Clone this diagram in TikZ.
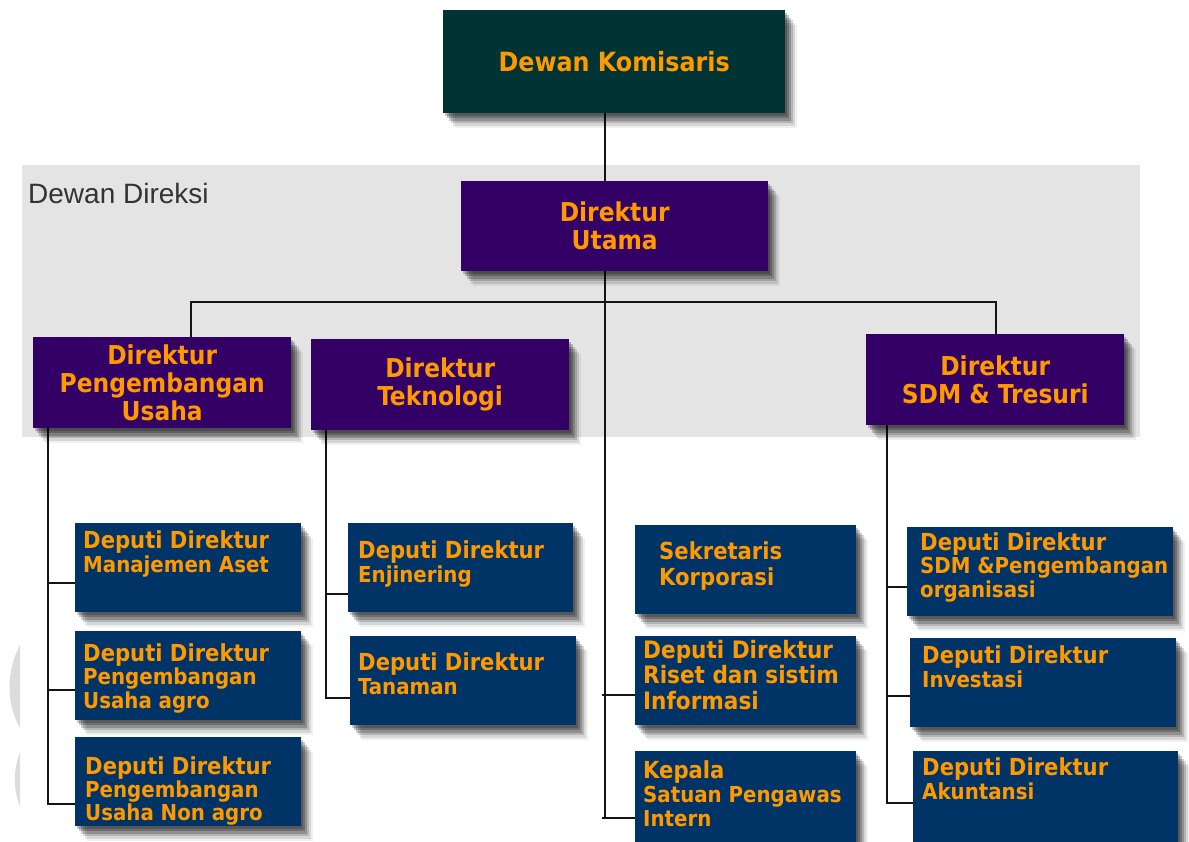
\documentclass[tikz,border=0pt]{standalone}
\usepackage{fontspec}
\usetikzlibrary{shadows}
\newfontfamily\boxfont{DejaVu Sans Condensed}
\newfontfamily\bandfont{Liberation Sans}
\definecolor{boardteal}{RGB}{0,51,51}
\definecolor{dirpurple}{RGB}{51,0,102}
\definecolor{depnavy}{RGB}{0,51,102}
\definecolor{labelorange}{RGB}{255,153,0}
\definecolor{bandgray}{RGB}{228,228,228}
\definecolor{markgray}{RGB}{220,220,220}
\definecolor{wire}{RGB}{20,20,20}
% one line of text inside a deputy box
\newcommand\lnA[1]{\hbox{\fontsize{23.5}{24}\selectfont #1}}
\newcommand\lnB[1]{\hbox{\fontsize{22}{24}\selectfont #1}}
\newcommand\lnC[1]{\hbox{\fontsize{24}{24}\selectfont #1}}
\newcommand\stacklines[2][24pt]{\vtop{\baselineskip=#1\relax #2}}
\pgfdeclarelayer{backdrop}
\pgfsetlayers{backdrop,main}
\tikzset{
  % soft shadow built from a few stacked, offset translucent copies
  softshadow/.style={
    drop shadow={shadow xshift=2pt, shadow yshift=-2.5pt, fill=black, opacity=0.22},
    drop shadow={shadow xshift=4pt, shadow yshift=-5pt, fill=black, opacity=0.22},
    drop shadow={shadow xshift=6pt, shadow yshift=-7.5pt, fill=black, opacity=0.2},
    drop shadow={shadow xshift=8pt, shadow yshift=-10pt, fill=black, opacity=0.16},
    drop shadow={shadow xshift=10pt, shadow yshift=-12.5pt, fill=black, opacity=0.11},
    drop shadow={shadow xshift=12pt, shadow yshift=-15pt, fill=black, opacity=0.06}},
  unitbox/.style={rectangle, draw=none, inner sep=0pt, anchor=north west, softshadow},
  board/.style={unitbox, fill=boardteal, minimum width=342pt, minimum height=103pt,
    text=labelorange, font=\boxfont\bfseries\fontsize{26.5}{28}\selectfont},
  director/.style={unitbox, fill=dirpurple, minimum width=258pt, minimum height=91pt,
    text=labelorange, align=center, font=\boxfont\bfseries\fontsize{26}{28}\selectfont},
  deputy/.style={unitbox, fill=depnavy, minimum height=89pt},
  deptext/.style={inner sep=0pt, anchor=base west, text=labelorange, font=\boxfont\bfseries},
  link/.style={draw=wire, line width=1.6pt},
}
\begin{document}
\begin{tikzpicture}[x=1pt, y=-1pt]
\useasboundingbox (0,0) rectangle (1189,842);

\node[inner sep=0pt, anchor=base west, text=black!80, font=\bandfont\fontsize{28}{30}\selectfont] (band) at (28,204) {Dewan Direksi};

% top level
\node[board] (kom) at (443,10) {Dewan Komisaris};
\node[director, minimum width=307pt, minimum height=90pt] (utama) at (461,181) {Direktur\\Utama};

% directors
\node[director] (pu) at (33,337) {Direktur\\Pengembangan\\Usaha};
\node[director] (tek) at (311,339) {Direktur\\Teknologi};
\node[director] (sdm) at (866,334) {Direktur\\SDM \& Tresuri};

% deputies under Pengembangan Usaha
\node[deputy, minimum width=226pt] (ma) at (75,523) {};
\node[deptext] (maT) at (83,548) {\stacklines{\lnA{Deputi Direktur}\lnB{Manajemen Aset}}};
\node[deputy, minimum width=226pt] (ua) at (75,631) {};
\node[deptext] (uaT) at (83,661) {\stacklines[23.5pt]{\lnA{Deputi Direktur}\lnB{Pengembangan}\lnB{Usaha agro}}};
\node[deputy, minimum width=226pt] (na) at (75,737) {};
\node[deptext] (naT) at (85,774) {\stacklines[23pt]{\lnA{Deputi Direktur}\lnB{Pengembangan}\lnB{Usaha Non agro}}};

% deputies under Teknologi
\node[deputy, minimum width=225pt] (en) at (348,523) {};
\node[deptext] (enT) at (358,558) {\stacklines{\lnA{Deputi Direktur}\lnB{Enjinering}}};
\node[deputy, minimum width=226pt] (ta) at (350,636) {};
\node[deptext] (taT) at (358,670) {\stacklines{\lnA{Deputi Direktur}\lnB{Tanaman}}};

% units under Direktur Utama
\node[deputy, minimum width=221pt] (sk) at (635,525) {};
\node[deptext] (skT) at (659,559) {\stacklines[26pt]{\lnA{Sekretaris}\lnA{Korporasi}}};
\node[deputy, minimum width=221pt] (ri) at (635,636) {};
\node[deptext] (riT) at (643,658) {\stacklines[25.5pt]{\lnC{Deputi Direktur}\lnC{Riset dan sistim}\lnC{Informasi}}};
\node[deputy, minimum width=221pt, minimum height=92pt] (kp) at (635,751) {};
\node[deptext] (kpT) at (643,778) {\stacklines{\lnA{Kepala}\lnB{Satuan Pengawas}\lnB{Intern}}};

% deputies under SDM & Tresuri
\node[deputy, minimum width=266pt] (sd) at (907,527) {};
\node[deptext] (sdT) at (920,550) {\stacklines[23.5pt]{\lnA{Deputi Direktur}\lnB{SDM \&Pengembangan}\lnB{organisasi}}};
\node[deputy, minimum width=266pt] (iv) at (910,638) {};
\node[deptext] (ivT) at (922,663) {\stacklines{\lnA{Deputi Direktur}\lnB{Investasi}}};
\node[deputy, minimum width=265pt, minimum height=92pt] (ak) at (913,751) {};
\node[deptext] (akT) at (922,775) {\stacklines{\lnA{Deputi Direktur}\lnB{Akuntansi}}};

% trunk and bus positions
\coordinate (trunk) at (605,302);
\coordinate (busL) at (191,302);
\coordinate (busR) at (996,302);
\coordinate (puLine) at (48,804);
\coordinate (tekLine) at (326,698);
\coordinate (sdmLine) at (887,803);
\coordinate (trunkEnd) at (605,818);
\coordinate (riStub) at (602,695);
\coordinate (kpStub) at (602,818);

\begin{pgfonlayer}{backdrop}
  % board of directors band and the faint mark on the left edge
  \fill[fill=bandgray] (22,165) rectangle (1140,437);
  \fill[fill=markgray] (20,645) .. controls (6,672) and (6,703) .. (20,728) -- cycle;
  \fill[fill=markgray] (20,752) .. controls (13,770) and (13,790) .. (20,806) -- cycle;
  % reporting lines
  \draw[link] (trunk |- kom.south) -- (trunk |- utama.north);
  \draw[link] (trunk |- utama.south) -- (trunkEnd);
  \draw[link] (busL |- pu.north) -- (busL) -- (busR) -- (busR |- sdm.north);
  % Pengembangan Usaha column
  \draw[link] (puLine |- pu.south) -- (puLine) -- (puLine -| na.west);
  \draw[link] (puLine |- 0,583) -- (ma.west |- 0,583);
  \draw[link] (puLine |- 0,690) -- (ua.west |- 0,690);
  % Teknologi column
  \draw[link] (tekLine |- tek.south) -- (tekLine) -- (tekLine -| ta.west);
  \draw[link] (tekLine |- 0,594) -- (en.west |- 0,594);
  % Direktur Utama units
  \draw[link] (riStub) -- (riStub -| ri.west);
  \draw[link] (kpStub) -- (kpStub -| kp.west);
  % SDM & Tresuri column
  \draw[link] (sdmLine |- sdm.south) -- (sdmLine) -- (sdmLine -| ak.west);
  \draw[link] (sdmLine |- 0,587) -- (sd.west |- 0,587);
  \draw[link] (sdmLine |- 0,696) -- (iv.west |- 0,696);
\end{pgfonlayer}
\end{tikzpicture}
\end{document}
